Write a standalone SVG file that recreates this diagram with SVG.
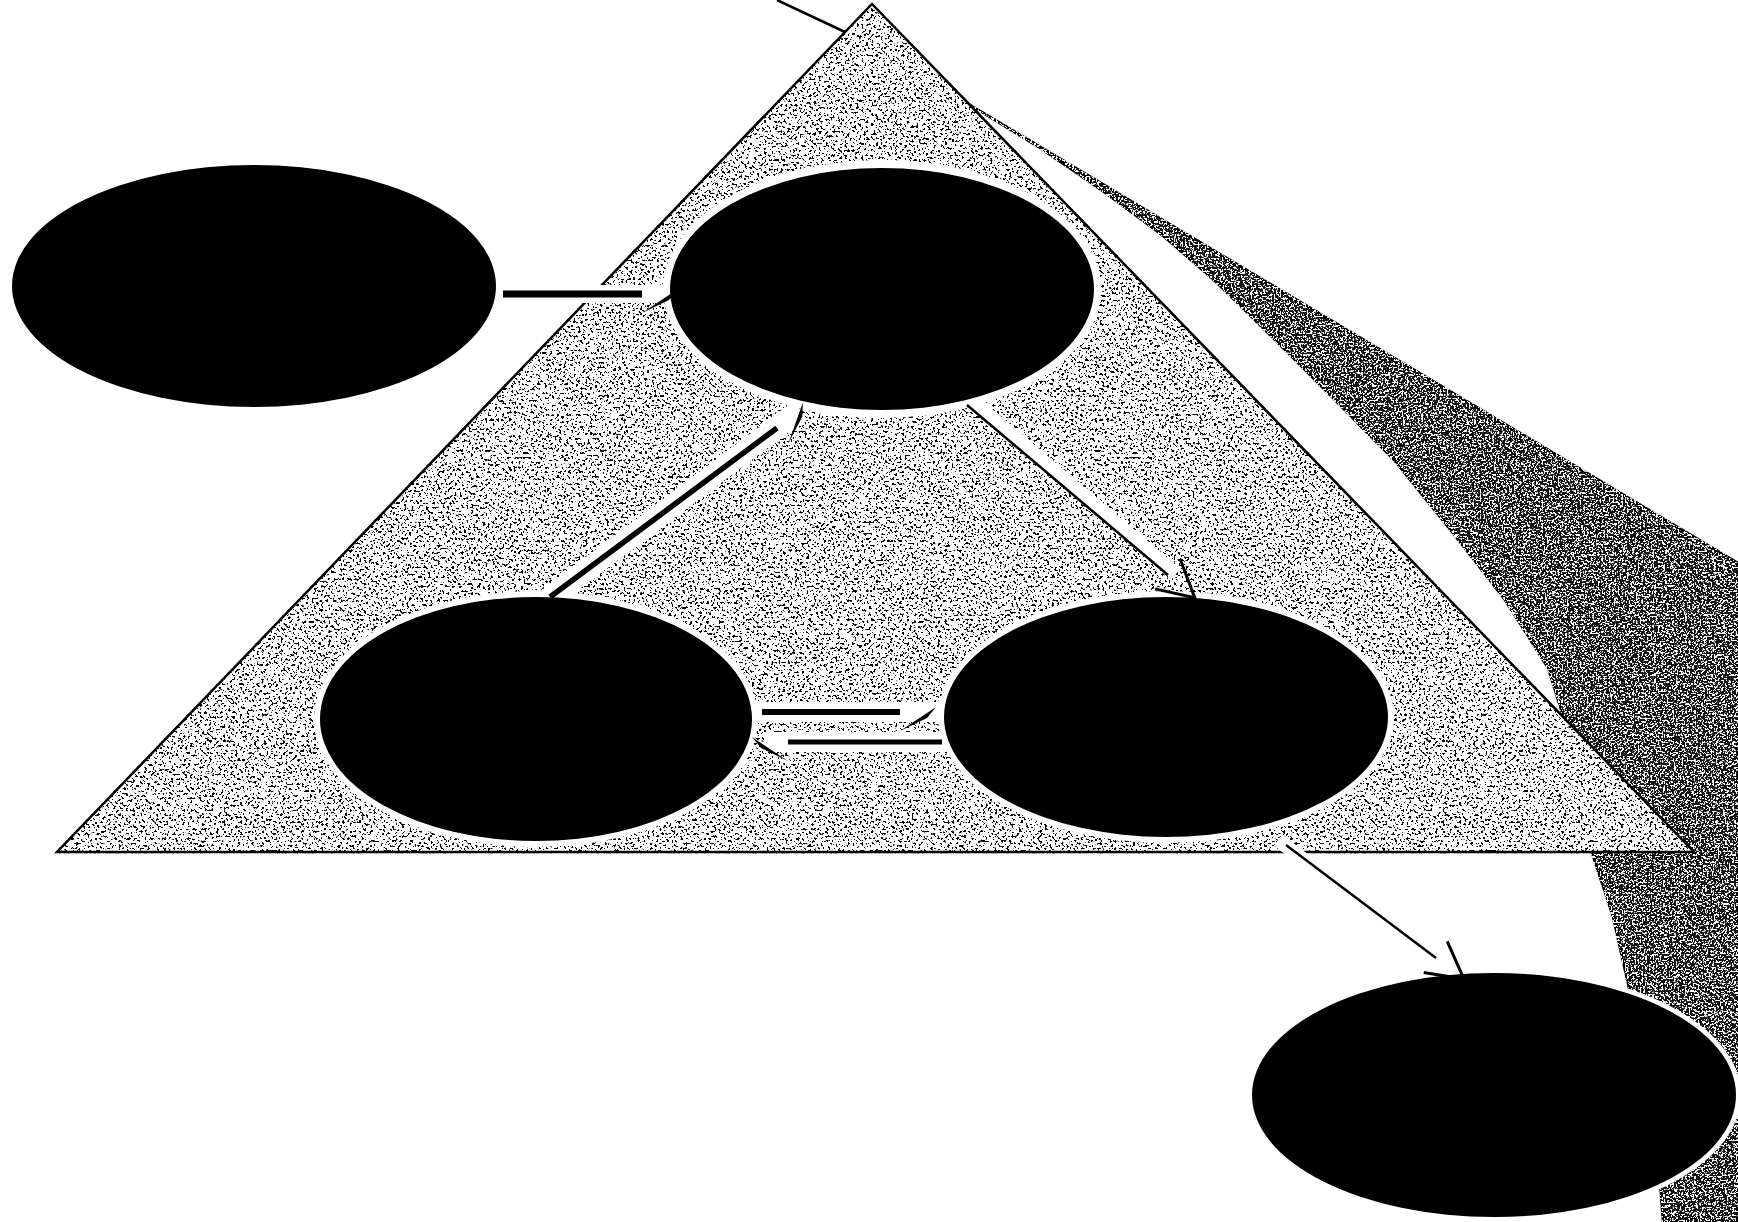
<svg xmlns="http://www.w3.org/2000/svg" width="1738" height="1222" viewBox="0 0 1738 1222">
<defs>
<style>
.edge{fill:none;stroke:#000;stroke-linecap:butt;stroke-linejoin:round}
.halo{fill:none;stroke:#fff;stroke-linecap:butt}
.node-halo{fill:#fff}
.node{fill:#000}
.outline{stroke:#000;stroke-width:2.5;stroke-linejoin:miter}
</style>
<filter id="speckleDark" x="-0.02" y="-0.02" width="1.04" height="1.04" color-interpolation-filters="sRGB">
  <feTurbulence type="fractalNoise" baseFrequency="0.42" numOctaves="2" seed="7" result="noise"/>
  <feColorMatrix in="noise" type="matrix" values="0 0 0 0 0  0 0 0 0 0  0 0 0 0 0  -30 0 0 0 12.3" result="dots"/>
  <feComposite in="dots" in2="SourceAlpha" operator="in" result="clipped"/>
  <feMerge><feMergeNode in="SourceGraphic"/><feMergeNode in="clipped"/></feMerge>
</filter>
<filter id="speckleLight" x="-0.02" y="-0.02" width="1.04" height="1.04" color-interpolation-filters="sRGB">
  <feTurbulence type="fractalNoise" baseFrequency="0.55" numOctaves="2" seed="11" result="noise"/>
  <feColorMatrix in="noise" type="matrix" values="0 0 0 0 1  0 0 0 0 1  0 0 0 0 1  30 0 0 0 -15.9" result="dots"/>
  <feComposite in="dots" in2="SourceAlpha" operator="in" result="clipped"/>
  <feMerge><feMergeNode in="SourceGraphic"/><feMergeNode in="clipped"/></feMerge>
</filter>
<marker id="harpR" markerUnits="userSpaceOnUse" viewBox="-5 -25 45 50" refX="0" refY="0" markerWidth="45" markerHeight="50" orient="auto" overflow="visible">
  <path d="M36,-5 L27,6 L0,19 Z" fill="#000"/>
</marker>
<marker id="harpL" markerUnits="userSpaceOnUse" viewBox="-5 -25 45 50" refX="0" refY="0" markerWidth="45" markerHeight="50" orient="auto" overflow="visible">
  <path d="M36,5 L27,-6 L0,-19 Z" fill="#000"/>
</marker>
<marker id="vhead" markerUnits="userSpaceOnUse" viewBox="-5 -25 45 50" refX="0" refY="0" markerWidth="45" markerHeight="50" orient="auto" overflow="visible">
  <path d="M-1,-20 L35,0 L-1,19" fill="none" stroke="#000" stroke-width="3" stroke-linejoin="miter"/>
</marker>
</defs>
<rect width="1738" height="1222" fill="#fff"/>

<g id="band">
  <path d="M967,103 L1738,563 L1738,1222 L1663,1222 L1660,1183 L1648,1090 L1630,993 L1613,917 L1592,853 L1578,765 L1548,668 L1505,600 L1452,532 L1394,460 L1325,390 L1270,335 L1216,282 L1162,235 L1104,192 L1040,148 L975,108 Z" fill="#141414" class="outline" filter="url(#speckleLight)"/>
</g>

<g id="pointer-line">
  <line x1="777" y1="0" x2="845" y2="32" class="edge" stroke-width="2.5"/>
</g>

<g id="triangle">
  <polygon points="872,4 1694,852 57,852" fill="#fff" class="outline" filter="url(#speckleDark)"/>
</g>

<g id="connector-halos">
  <line class="halo" x1="503" y1="294" x2="672" y2="294" stroke-width="18"/>
  <line class="halo" x1="548" y1="599" x2="800" y2="410" stroke-width="22"/>
  <line class="halo" x1="971" y1="400" x2="1176" y2="574" stroke-width="14"/>
  <line class="halo" x1="755" y1="712" x2="942" y2="712" stroke-width="20"/>
  <line class="halo" x1="764" y1="742" x2="948" y2="742" stroke-width="20"/>
  <line class="halo" x1="1278" y1="840" x2="1312" y2="866" stroke-width="14"/>
</g>

<g id="node-1">
  <ellipse class="node-halo" cx="254" cy="286" rx="248" ry="127"/>
  <ellipse class="node" cx="254" cy="286" rx="242" ry="121"/>
</g>
<g id="node-2">
  <ellipse class="node-halo" cx="882" cy="289" rx="219" ry="129"/>
  <ellipse class="node" cx="882" cy="289" rx="212" ry="121"/>
</g>
<g id="node-3">
  <ellipse class="node-halo" cx="536" cy="719" rx="222" ry="128"/>
  <ellipse class="node" cx="536" cy="719" rx="216" ry="122"/>
</g>
<g id="node-4">
  <ellipse class="node-halo" cx="1166" cy="717" rx="228" ry="126"/>
  <ellipse class="node" cx="1166" cy="717" rx="222" ry="120"/>
</g>
<g id="node-5">
  <ellipse class="node-halo" cx="1494" cy="1095" rx="247" ry="127"/>
  <ellipse class="node" cx="1494" cy="1095" rx="242" ry="122"/>
</g>

<g id="connectors">
  <line class="edge" x1="503" y1="294" x2="642" y2="294" stroke-width="7" marker-end="url(#harpR)"/>
  <line class="edge" x1="550" y1="597" x2="777" y2="428" stroke-width="5.5" marker-end="url(#harpR)"/>
  <line class="edge" x1="967" y1="405" x2="1168" y2="575" stroke-width="2.5" marker-end="url(#vhead)"/>
  <line class="edge" x1="762" y1="712" x2="900" y2="712" stroke-width="6" marker-end="url(#harpR)"/>
  <line class="edge" x1="942" y1="742" x2="788" y2="742" stroke-width="5" marker-end="url(#harpL)"/>
  <line class="edge" x1="1286" y1="845" x2="1436" y2="958" stroke-width="2.5" marker-end="url(#vhead)"/>
</g>
</svg>
